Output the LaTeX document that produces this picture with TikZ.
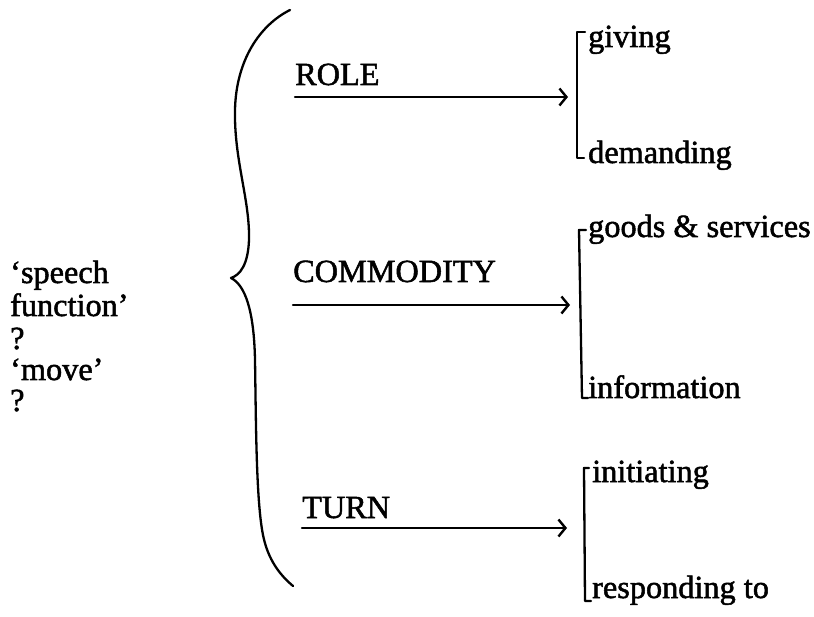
\documentclass[tikz,border=0pt]{standalone}
\usepackage{fontspec}
\setmainfont{Liberation Serif}
\newfontfamily\inkfont{Liberation Serif}[FakeBold=1.6]
\usetikzlibrary{arrows.meta}
\begin{document}
\begin{tikzpicture}[x=1pt,y=-1pt,
  lbl/.style={anchor=base west,inner sep=0pt,font=\inkfont\fontsize{32.3}{34}\selectfont},
  ink/.style={line width=2.3pt,line cap=round,line join=round},
  feed/.style={ink,-{Straight Barb[length=7pt,width=17pt,line width=2.4pt]}}]
  \useasboundingbox (0,0) rectangle (814,617);

  % left-hand labels
  \node[lbl] (l1) at (10,283) {‘speech};
  \node[lbl] (l2) at (10,316) {function’};
  \node[lbl] (l3) at (10,349) {?};
  \node[lbl] (l4) at (10,380) {‘move’};
  \node[lbl] (l5) at (10,411) {?};

  % curly brace
  \draw[ink] (290,10) .. controls (260,25) and (236,60) .. (235,110)
    .. controls (234,160) and (250,200) .. (249,240)
    .. controls (248,265) and (240,275) .. (231,278)
    .. controls (245,285) and (254,310) .. (255,360)
    .. controls (256,420) and (256,500) .. (263,535)
    .. controls (268,560) and (280,575) .. (293,586);

  % system names
  \node[lbl] (role) at (295,85) {ROLE};
  \node[lbl] (comm) at (293,282) {COMMODITY};
  \node[lbl] (turn) at (302,518) {TURN};

  % options
  \node[lbl] (giv) at (588,47) {giving};
  \node[lbl] (dem) at (588,163) {demanding};
  \node[lbl] (goo) at (588,237) {goods \& services};
  \node[lbl] (inf) at (588,398) {information};
  \node[lbl] (ini) at (592,482) {initiating};
  \node[lbl] (res) at (592,598) {responding to};

  % bracket ends and arrow points
  \coordinate (r0) at (295,97);  \coordinate (r1) at (568,97);
  \coordinate (c0) at (293,305); \coordinate (c1) at (570,305);
  \coordinate (t0) at (302,528); \coordinate (t1) at (567,528);

  \draw[feed] (r0) -- (r1);
  \draw[feed] (c0) -- (c1);
  \draw[feed] (t0) -- (t1);

  % square brackets
  \draw[ink] (585,32) -- (577,32) -- (577,158) -- (584,158);
  \draw[ink] (586,230) -- (579,230) -- (582,398) -- (588,398);
  \draw[ink] (589,468) -- (584,468) -- (585,601) -- (591,601);
\end{tikzpicture}
\end{document}
